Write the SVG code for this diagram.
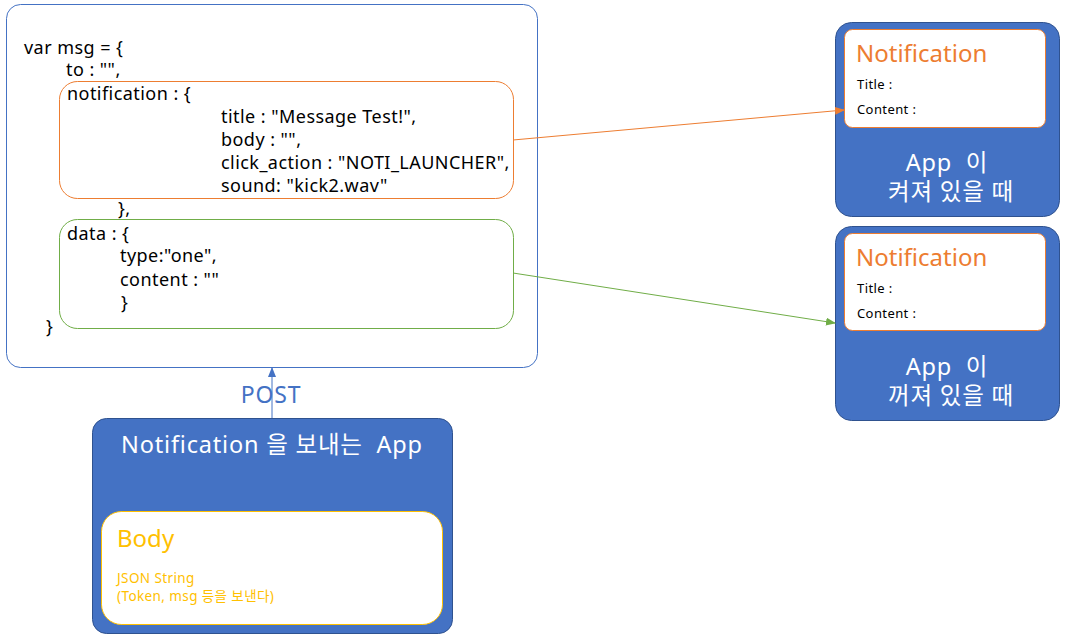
<svg xmlns="http://www.w3.org/2000/svg" width="1067" height="639" viewBox="0 0 1067 639">
<style>
text{font-family:"Noto Sans","Noto Sans CJK KR",sans-serif;white-space:pre;}
.code{font-size:18px;fill:#000;letter-spacing:0.45px;}
.blue{fill:#4472C4;stroke:#2F528F;stroke-width:1;}
.w{fill:#fff;font-size:23.5px;letter-spacing:0.8px;}
.small{font-size:13px;fill:#000;letter-spacing:0.4px;}
.noti{fill:#ED7D31;font-size:24px;}
.yel{fill:#FFC000;}
</style>
<defs>
<marker id="ao" markerWidth="10" markerHeight="8" refX="9" refY="4" orient="auto" markerUnits="userSpaceOnUse"><path d="M0,0 L10,4 L0,8 z" fill="#ED7D31"/></marker>
<marker id="ag" markerWidth="10" markerHeight="8" refX="9" refY="4" orient="auto" markerUnits="userSpaceOnUse"><path d="M0,0 L10,4 L0,8 z" fill="#70AD47"/></marker>
<marker id="ab" markerWidth="10" markerHeight="8" refX="9" refY="4" orient="auto" markerUnits="userSpaceOnUse"><path d="M0,0 L10,4 L0,8 z" fill="#4472C4"/></marker>
</defs>
<rect width="1067" height="639" fill="#fff"/>
<g id="msg">
<rect x="6.5" y="4.5" width="531" height="363" rx="14" fill="#fff" stroke="#4472C4"/>
<rect x="59.5" y="81.5" width="454" height="117" rx="18" fill="none" stroke="#ED7D31"/>
<rect x="59.5" y="219.5" width="454" height="109" rx="18" fill="none" stroke="#70AD47"/>
<text class="code" x="24" y="54">var msg = {</text>
<text class="code" x="66" y="76">to : "",</text>
<text class="code" x="67" y="100">notification : {</text>
<text class="code" x="221" y="123">title : "Message Test!",</text>
<text class="code" x="221" y="146">body : "",</text>
<text class="code" x="221" y="169">click_action : "NOTI_LAUNCHER",</text>
<text class="code" x="221" y="192">sound: "kick2.wav"</text>
<text class="code" x="118" y="215">},</text>
<text class="code" x="67" y="240">data : {</text>
<text class="code" x="120" y="262">type:"one",</text>
<text class="code" x="120" y="286">content : ""</text>
<text class="code" x="121" y="309">}</text>
<text class="code" x="46" y="333">}</text>
</g>
<g id="on">
<rect x="835.5" y="22.5" width="224" height="194" rx="16" class="blue"/>
<rect x="844.5" y="29.5" width="201" height="98" rx="8" fill="#fff" stroke="#ED7D31"/>
<text class="noti" x="856" y="62">Notification</text>
<text class="small" x="857" y="89">Title :</text>
<text class="small" x="857" y="114">Content :</text>
<text class="w" x="947" y="171" text-anchor="middle">App  이</text>
<text class="w" x="951" y="200" text-anchor="middle">켜져 있을 때</text>
</g>
<g id="off">
<rect x="835.5" y="226.5" width="224" height="194" rx="16" class="blue"/>
<rect x="844.5" y="233.5" width="201" height="97" rx="8" fill="#fff" stroke="#ED7D31"/>
<text class="noti" x="856" y="266">Notification</text>
<text class="small" x="857" y="293">Title :</text>
<text class="small" x="857" y="318">Content :</text>
<text class="w" x="947" y="375" text-anchor="middle">App  이</text>
<text class="w" x="951" y="404" text-anchor="middle">꺼져 있을 때</text>
</g>
<g id="sender">
<rect x="92.5" y="418.5" width="360" height="215" rx="14" class="blue"/>
<text class="w" x="272" y="453" text-anchor="middle" font-size="25" letter-spacing="0.6">Notification 을 보내는  App</text>
<rect x="101.5" y="511.5" width="341" height="113" rx="20" fill="#fff" stroke="#FFC000"/>
<text class="yel" x="117" y="547" font-size="24">Body</text>
<text class="yel" x="117" y="583" font-size="13.5" letter-spacing="0.4">JSON String</text>
<text class="yel" x="117" y="601" font-size="13.5" letter-spacing="0.4">(Token, msg 등을 보낸다)</text>
</g>
<g id="connectors">
<line x1="513" y1="140" x2="844" y2="110" stroke="#ED7D31" stroke-width="1" marker-end="url(#ao)"/>
<line x1="513" y1="273" x2="835" y2="323" stroke="#70AD47" stroke-width="1" marker-end="url(#ag)"/>
<line x1="272" y1="418" x2="272" y2="368" stroke="#4472C4" stroke-width="1" marker-end="url(#ab)"/>
<text x="271" y="403" text-anchor="middle" fill="#4472C4" font-size="23" letter-spacing="0.8">POST</text>
</g>
</svg>
